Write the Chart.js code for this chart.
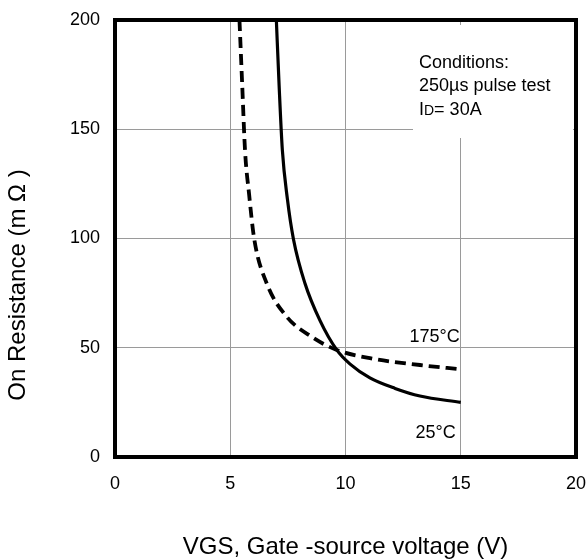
<!DOCTYPE html>
<html>
<head>
<meta charset="utf-8">
<script src="https://cdn.jsdelivr.net/npm/chart.js@4"></script>
<style>
html,body{margin:0;padding:0;background:#fff;}
#wrap{width:587px;height:559px;position:relative;}
</style>
</head>
<body>
<div id="wrap"><canvas id="c" width="587" height="559"></canvas></div>
<script>
const xTicks = [0, 5, 10, 15, 20];
const yTicks = [0, 50, 100, 150, 200];
const vgs25 = [7.0, 7.12, 7.26, 7.48, 7.74, 8.24, 8.89, 9.62, 10.2, 11.06, 12.15, 13.23, 15];
const ron25 = [200, 170, 140.5, 118, 99.8, 79.5, 62.5, 49, 42.5, 36.2, 31.4, 27.9, 25];
const vgs175 = [5.4, 5.52, 5.64, 5.82, 6.04, 6.58, 7.45, 8.53, 9.62, 11.06, 13.23, 15];
const ron175 = [200, 170, 140.5, 120, 99.8, 79.5, 64.2, 55, 49, 45.2, 42.1, 40.1];
const labels = ["175°C", "25°C"];
const conditions = ["Conditions:", "250µs pulse test"];
const yTitle = "On Resistance (m Ω )";

const FONT = "Arial, 'Liberation Sans', sans-serif";
const toPts = (xs, ys) => xs.map((x, i) => ({x: x, y: ys[i]}));
const noPad = s => { s.paddingLeft = 0; s.paddingRight = 0; s.paddingTop = 0; s.paddingBottom = 0; };

const overlay = {
  id: 'overlay',
  afterDatasetsDraw(chart) {
    const ctx = chart.ctx, a = chart.chartArea;
    const xs = chart.scales.x, ys = chart.scales.y;
    ctx.save();
    // conditions box (white background covering grid)
    ctx.fillStyle = '#fff';
    ctx.fillRect(413, 25, 160, 113);
    ctx.fillStyle = '#000';
    ctx.font = '18px ' + FONT;
    ctx.textBaseline = 'alphabetic';
    ctx.textAlign = 'left';
    ctx.fillText(conditions[0], 419, 68);
    ctx.fillText(conditions[1], 419, 91);
    ctx.fillText('I', 419, 115);
    const wi = ctx.measureText('I').width;
    ctx.font = '14px ' + FONT;
    ctx.fillText('D', 419 + wi, 115);
    const w = ctx.measureText('D').width;
    ctx.font = '18px ' + FONT;
    ctx.fillText('= 30A', 419 + wi + w, 115);
    // curve labels
    ctx.textAlign = 'right';
    ctx.fillText(labels[0], xs.getPixelForValue(15) - 1, ys.getPixelForValue(52.6));
    ctx.fillText(labels[1], xs.getPixelForValue(15) - 5, ys.getPixelForValue(8.7));
    // frame
    ctx.strokeStyle = '#000';
    ctx.lineWidth = 4;
    ctx.strokeRect(a.left, a.top, a.right - a.left, a.bottom - a.top);
    // y axis title
    ctx.translate(18, 285);
    ctx.rotate(-Math.PI / 2);
    ctx.textAlign = 'center';
    ctx.textBaseline = 'middle';
    ctx.font = '24px ' + FONT;
    ctx.fillText(yTitle, 0, 0);
    ctx.restore();
  }
};

new Chart(document.getElementById('c'), {
  type: 'scatter',
  data: {
    datasets: [
      {
        label: '25°C',
        data: toPts(vgs25, ron25),
        showLine: true,
        borderColor: '#000',
        borderWidth: 3.2,
        pointRadius: 0,
        cubicInterpolationMode: 'monotone',
        fill: false
      },
      {
        label: '175°C',
        data: toPts(vgs175, ron175),
        showLine: true,
        borderColor: '#000',
        borderWidth: 3.8,
        borderDash: [11, 6],
        pointRadius: 0,
        cubicInterpolationMode: 'monotone',
        fill: false
      }
    ]
  },
  options: {
    responsive: false,
    animation: false,
    devicePixelRatio: 1,
    layout: {padding: {left: 0, right: 11, top: 20, bottom: 0}},
    plugins: {legend: {display: false}, tooltip: {enabled: false}},
    scales: {
      x: {
        type: 'linear',
        min: 0, max: 20,
        afterBuildTicks: s => { s.ticks = xTicks.map(v => ({value: v})); },
        afterFit: s => { s.height = 102; noPad(s); },
        grid: {color: '#9a9a9a', lineWidth: 1, drawTicks: false},
        border: {display: false},
        ticks: {color: '#000', font: {family: FONT, size: 18}, padding: 16, maxRotation: 0},
        title: {display: true, text: 'VGS, Gate -source voltage (V)', color: '#000',
                font: {family: FONT, size: 24, lineHeight: 1}, padding: {top: 0, bottom: 0}}
      },
      y: {
        type: 'linear',
        min: 0, max: 200,
        afterBuildTicks: s => { s.ticks = yTicks.map(v => ({value: v})); },
        afterFit: s => { s.width = 115; noPad(s); },
        grid: {color: '#9a9a9a', lineWidth: 1, drawTicks: false},
        border: {display: false},
        ticks: {color: '#000', font: {family: FONT, size: 18}, padding: 15},
        title: {display: false}
      }
    }
  },
  plugins: [overlay]
});
</script>
</body>
</html>
